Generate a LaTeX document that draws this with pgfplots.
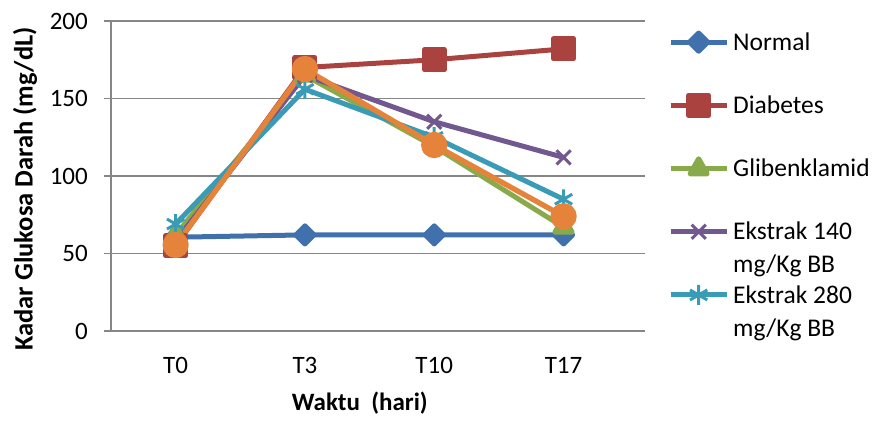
\documentclass[border=0pt]{standalone}
\usepackage{fontspec}
\setmainfont{Carlito}
\usepackage{pgfplots}
\pgfplotsset{compat=1.18}

\definecolor{gridc}{RGB}{134,134,134}
\definecolor{cblue}{RGB}{65,113,172}
\definecolor{cred}{RGB}{170,66,63}
\definecolor{cgreen}{RGB}{137,170,74}
\definecolor{cpurple}{RGB}{113,88,143}
\definecolor{cteal}{RGB}{57,155,181}
\definecolor{corange}{RGB}{228,131,57}

\begin{document}
\begin{tikzpicture}
\useasboundingbox (-111bp,-90bp) rectangle (761bp,331bp);
\begin{axis}[
    at={(0,0)}, anchor=south west,
    width=534bp, height=310bp, scale only axis,
    xmin=-0.5, xmax=3.63, ymin=0, ymax=200,
    xtick={0,1,2,3}, xticklabels={T0,T3,T10,T17},
    ytick={0,50,100,150,200},
    axis x line*=bottom, axis y line*=left,
    axis line style={gridc, line width=1.6bp, -},
    ymajorgrids, grid style={gridc, line width=1.6bp},
    major x tick style={draw=none},
    major y tick style={gridc, line width=1.6bp},
    major tick length=7bp, tick align=outside,
    /pgf/number format/assume math mode=true,
    tick label style={font=\fontsize{25bp}{30bp}\selectfont},
    yticklabel style={anchor=east, inner sep=0pt, xshift=-16bp},
    xticklabel style={anchor=north, inner sep=0pt, yshift=-19bp},
    xlabel={Waktu\ \ (hari)},
    ylabel={Kadar Glukosa Darah (mg/dL)},
    xlabel style={font=\bfseries\fontsize{25bp}{30bp}\selectfont,
        at={(axis description cs:0.466,-0.232)}, anchor=center},
    ylabel style={font=\bfseries\fontsize{26.5bp}{30bp}\selectfont,
        at={(axis description cs:-0.161,0.458)}, anchor=center},
    line join=round,
    legend image code/.code={\draw[mark repeat=2,mark phase=2,#1] plot coordinates {(0bp,0bp) (28bp,0bp) (56bp,0bp)};},
    legend cell align=left,
    legend style={draw=none, fill=none, inner sep=0pt,
        at={(axis description cs:1.043,0.964)}, anchor=north west,
        font=\fontsize{25.5bp}{33bp}\selectfont,
        column sep=4bp, row sep=43.4bp,
        nodes={inner sep=0pt, text height=18bp, text depth=1.6bp}},
]
\addplot[color=cblue, line width=5bp, mark=square*, mark size=6.4bp, mark options={rotate=45, solid}]
    coordinates {(0,60.5) (1,62) (2,62) (3,62)};
\addlegendentry{Normal}
\addplot[color=cred, line width=5bp, mark=square*, mark size=10bp, mark options={solid}]
    coordinates {(0,55) (1,170) (2,175) (3,182)};
\addlegendentry{Diabetes}
\addplot[color=cgreen, line width=5bp, mark=triangle*, mark size=10bp, mark options={solid}]
    coordinates {(0,62) (1,165) (2,119) (3,67)};
\addlegendentry{Glibenklamid}
\addplot[color=cpurple, line width=5bp, mark=x, mark size=10bp, mark options={solid, line width=3bp}]
    coordinates {(0,58) (1,165) (2,135) (3,112)};
\addlegendentry{{\begin{tabular}[t]{@{}l@{}}Ekstrak 140\\mg/Kg BB\end{tabular}}}
\addplot[color=cteal, line width=5bp, mark=asterisk, mark size=10bp, mark options={solid, line width=3bp}]
    coordinates {(0,69) (1,156) (2,125) (3,85)};
\addlegendentry{{\begin{tabular}[t]{@{}l@{}}Ekstrak 280\\mg/Kg BB\end{tabular}}}
\addplot[forget plot, color=corange, line width=5.3bp, mark=*, mark size=10.5bp, mark options={solid}]
    coordinates {(0,55.5) (1,169) (2,120) (3,74)};
\end{axis}
\end{tikzpicture}
\end{document}
